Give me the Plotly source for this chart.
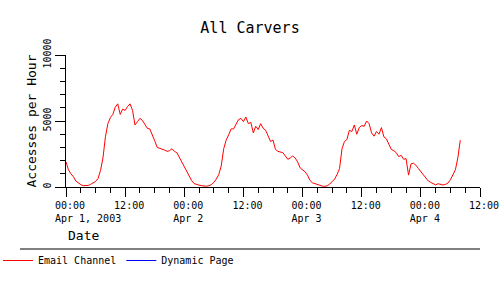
import pandas as pd
import plotly.graph_objects as go

# Half-hourly accesses per hour, starting Apr 1 2003 00:00
day1 = [1900, 1300, 1000, 780, 450, 300, 180, 100, 90, 120, 200, 280,
        420, 650, 1250, 2200, 3800, 4800, 5250, 5500, 6050, 6300, 5500, 5900,
        5800, 6100, 6300, 5800, 4700, 4950, 5200, 5050, 4700, 4450, 4400, 4000,
        3500, 3000, 2950, 2900, 2800, 2700, 2750, 2900, 2700, 2600, 2250, 1900]
day2 = [1450, 1100, 820, 480, 260, 180, 140, 100, 80, 60, 100, 180,
        350, 600, 950, 1600, 2900, 3550, 3950, 4400, 4400, 4700, 5100, 5200,
        4950, 5300, 4800, 4900, 4100, 4600, 4350, 4800, 4450, 4300, 3800, 3450,
        3550, 2850, 2700, 2650, 2600, 2350, 2100, 2200, 2350, 2200, 1900, 1450]
day3 = [1300, 1150, 900, 500, 320, 250, 180, 110, 70, 50, 90, 220,
        400, 600, 950, 1400, 2900, 3450, 3600, 4300, 4200, 4700, 4000, 4500,
        4650, 4600, 5000, 4800, 4100, 3850, 4200, 4000, 4500, 3800, 3650, 3250,
        2850, 2750, 2600, 2300, 2400, 2100, 2150, 900, 1750, 1800, 1650, 1400]
day4 = [1150, 950, 620, 460, 350, 260, 160, 250, 220, 150, 200, 300,
        550, 900, 1300, 2200, 3550]

email_values = day1 + day2 + day3 + day4
times = pd.date_range("2003-04-01 00:00", periods=len(email_values), freq="30min")

major_ticks = pd.date_range("2003-04-01 00:00", "2003-04-04 12:00", freq="12h")
minor_ticks = pd.date_range("2003-04-01 00:00", "2003-04-04 12:00", freq="3h")
major_text = ["00:00<br>" + "\u00a0" * 6 + "Apr 1, 2003", "12:00",
              "00:00<br>Apr 2", "12:00", "00:00<br>Apr 3", "12:00",
              "00:00<br>Apr 4", "12:00"]
y_major = [0, 5000, 10000]
y_minor = list(range(0, 10001, 1000))

MONO = "DejaVu Sans Mono"

fig = go.Figure()
fig.add_trace(go.Scatter(x=times, y=email_values, mode="lines",
                         name="Email Channel",
                         line=dict(color="#ff0000", width=1)))
fig.add_trace(go.Scatter(x=[times[0]], y=[None], mode="lines",
                         name="Dynamic Page",
                         line=dict(color="#0000ff", width=1)))

L, R, T, B = 66, 20, 55, 113
W, H = 500, 300
pw, ph = W - L - R, H - T - B

def px_x(p):
    return (p - L) / pw

def px_y(p):
    return (H - B - p) / ph

fig.update_layout(
    width=W, height=H,
    margin=dict(l=L, r=R, t=T, b=B, autoexpand=False),
    paper_bgcolor="white", plot_bgcolor="white",
    font=dict(family=MONO, color="black", size=10),
    title=dict(text="All Carvers", x=0.5, xref="container", xanchor="center",
               y=1 - 28 / H, yref="container", yanchor="middle",
               font=dict(family=MONO, size=15, color="black")),
    showlegend=True,
    legend=dict(orientation="h", x=px_x(-2), xanchor="left",
                y=px_y(246), yanchor="top",
                font=dict(family=MONO, size=10, color="black"),
                bgcolor="rgba(0,0,0,0)"),
    xaxis=dict(type="date",
               range=[major_ticks[0], major_ticks[-1]],
               tickmode="array", tickvals=list(major_ticks), ticktext=major_text,
               ticks="outside", ticklen=9, tickcolor="black", tickwidth=1,
               tickangle=0, ticklabelshift=4,
               tickfont=dict(family=MONO, size=10, color="black"),
               showline=True, linecolor="black", linewidth=1,
               showgrid=False, zeroline=False, automargin=False,
               minor=dict(tickmode="array", tickvals=list(minor_ticks),
                          ticks="outside", ticklen=5, tickcolor="black",
                          showgrid=False)),
    yaxis=dict(range=[0, 10000],
               tickmode="array", tickvals=y_major,
               ticktext=[str(v) for v in y_major],
               ticks="outside", ticklen=10, tickcolor="black", tickwidth=1,
               tickangle=-90,
               tickfont=dict(family=MONO, size=10, color="black"),
               showline=True, linecolor="black", linewidth=1,
               showgrid=False, zeroline=False, automargin=False,
               title=dict(text="Accesses per Hour",
                          font=dict(family=MONO, size=13, color="black"),
                          standoff=2),
               minor=dict(tickmode="array", tickvals=y_minor,
                          ticks="outside", ticklen=5, tickcolor="black",
                          showgrid=False)),
    annotations=[dict(text="Date", xref="paper", yref="paper",
                      x=0, y=px_y(235), xanchor="left", yanchor="middle",
                      showarrow=False,
                      font=dict(family=MONO, size=13, color="black"))],
    shapes=[dict(type="line", xref="paper", yref="paper",
                 x0=px_x(20), x1=1, y0=px_y(249), y1=px_y(249),
                 line=dict(color="black", width=1))],
)

fig.write_html("out.html")
